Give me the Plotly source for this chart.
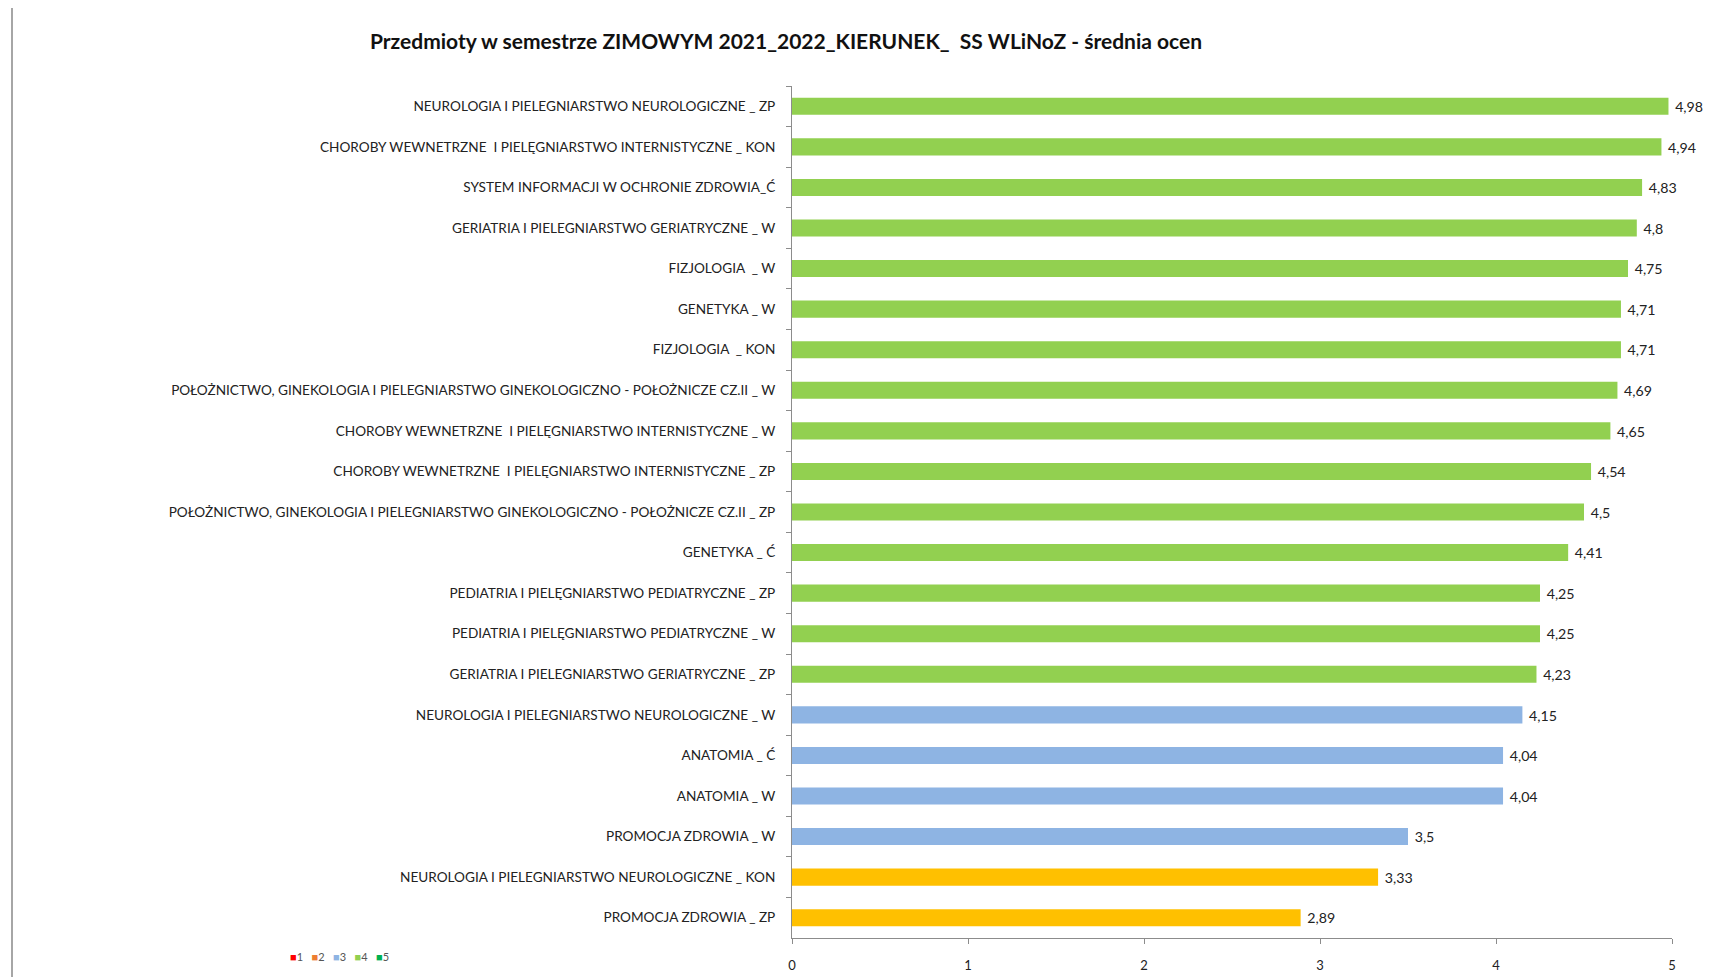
import plotly.graph_objects as go

categories = [
    "NEUROLOGIA I PIELEGNIARSTWO NEUROLOGICZNE _ ZP",
    "CHOROBY WEWNETRZNE  I PIELĘGNIARSTWO INTERNISTYCZNE _ KON",
    "SYSTEM INFORMACJI W OCHRONIE ZDROWIA_Ć",
    "GERIATRIA I PIELEGNIARSTWO GERIATRYCZNE _ W",
    "FIZJOLOGIA  _ W",
    "GENETYKA _ W",
    "FIZJOLOGIA  _ KON",
    "POŁOŻNICTWO, GINEKOLOGIA I PIELEGNIARSTWO GINEKOLOGICZNO - POŁOŻNICZE CZ.II _ W",
    "CHOROBY WEWNETRZNE  I PIELĘGNIARSTWO INTERNISTYCZNE _ W",
    "CHOROBY WEWNETRZNE  I PIELĘGNIARSTWO INTERNISTYCZNE _ ZP",
    "POŁOŻNICTWO, GINEKOLOGIA I PIELEGNIARSTWO GINEKOLOGICZNO - POŁOŻNICZE CZ.II _ ZP",
    "GENETYKA _ Ć",
    "PEDIATRIA I PIELĘGNIARSTWO PEDIATRYCZNE _ ZP",
    "PEDIATRIA I PIELĘGNIARSTWO PEDIATRYCZNE _ W",
    "GERIATRIA I PIELEGNIARSTWO GERIATRYCZNE _ ZP",
    "NEUROLOGIA I PIELEGNIARSTWO NEUROLOGICZNE _ W",
    "ANATOMIA _ Ć",
    "ANATOMIA _ W",
    "PROMOCJA ZDROWIA _ W",
    "NEUROLOGIA I PIELEGNIARSTWO NEUROLOGICZNE _ KON",
    "PROMOCJA ZDROWIA _ ZP",
]
values = [4.98, 4.94, 4.83, 4.8, 4.75, 4.71, 4.71, 4.69, 4.65, 4.54, 4.5,
          4.41, 4.25, 4.25, 4.23, 4.15, 4.04, 4.04, 3.5, 3.33, 2.89]
grade_groups = [4, 4, 4, 4, 4, 4, 4, 4, 4, 4, 4, 4, 4, 4, 4, 3, 3, 3, 3, 2, 2]

legend_labels = ["1", "2", "3", "4", "5"]
legend_colors = ["#FF0000", "#ED7D31", "#8EB4E3", "#92D050", "#00B050"]
bar_group_colors = {2: "#FFC000", 3: "#8EB4E3", 4: "#92D050"}

FONT = "Lato, 'Open Sans', sans-serif"

bar_colors = [bar_group_colors[g] for g in grade_groups]
labels = [" " + f"{v:g}".replace(".", ",") for v in values]

PLOT_W = 880
PLOT_H = 858

fig = go.Figure()
fig.add_trace(go.Bar(
    x=values, y=categories, orientation="h",
    marker=dict(color=bar_colors, line=dict(width=0)),
    text=labels, textposition="outside", cliponaxis=False,
    textfont=dict(family=FONT, size=15, color="#222222"),
    showlegend=False, width=0.42,
))

# legend drawn as a compact row, like the original (colour squares + labels)
legend_html = "&nbsp;&nbsp;&nbsp;".join(
    f"<span style='color:{c}'>■</span><span style='color:#555555'>{l}</span>"
    for l, c in zip(legend_labels, legend_colors)
)
fig.add_annotation(text=legend_html, xref="paper", yref="paper",
                   x=(288 - 792) / PLOT_W, y=-(962 - 943) / PLOT_H, xanchor="left", yanchor="middle",
                   showarrow=False, font=dict(family=FONT, size=11))

fig.update_layout(
    width=1724, height=977,
    paper_bgcolor="white", plot_bgcolor="white",
    margin=dict(l=784, r=1724 - 784 - PLOT_W, t=78, b=977 - 78 - PLOT_H),
    title=dict(text="<b>Przedmioty w semestrze ZIMOWYM 2021_2022_KIERUNEK_  SS WLiNoZ - średnia ocen</b>",
               x=778 / 1724, xanchor="center", y=1 - 34 / 977, yanchor="middle",
               font=dict(family=FONT, size=21, color="#111111")),
    font=dict(family=FONT, size=13, color="#222222"),
    showlegend=False,
    bargap=0.58,
)
fig.update_xaxes(range=[0, 5], dtick=1, showgrid=False, zeroline=False,
                 showline=True, linecolor="#8c8c8c", linewidth=1,
                 ticks="outside", ticklen=5, tickcolor="#8c8c8c",
                 ticklabelstandoff=10,
                 tickfont=dict(family=FONT, size=13, color="#222222"))
fig.update_yaxes(autorange="reversed", showgrid=False, zeroline=False,
                 showline=True, linecolor="#8c8c8c", linewidth=1,
                 ticks="outside", ticklen=5, tickcolor="#8c8c8c", tickson="boundaries",
                 ticklabelstandoff=13,
                 tickfont=dict(family=FONT, size=13.6, color="#222222"))

fig.add_shape(type="line", xref="paper", yref="paper",
              x0=-780 / PLOT_W, x1=-780 / PLOT_W, y0=-50 / PLOT_H, y1=1 + 90 / PLOT_H,
              line=dict(color="#a6a6a6", width=2))

fig.write_html("out.html")
